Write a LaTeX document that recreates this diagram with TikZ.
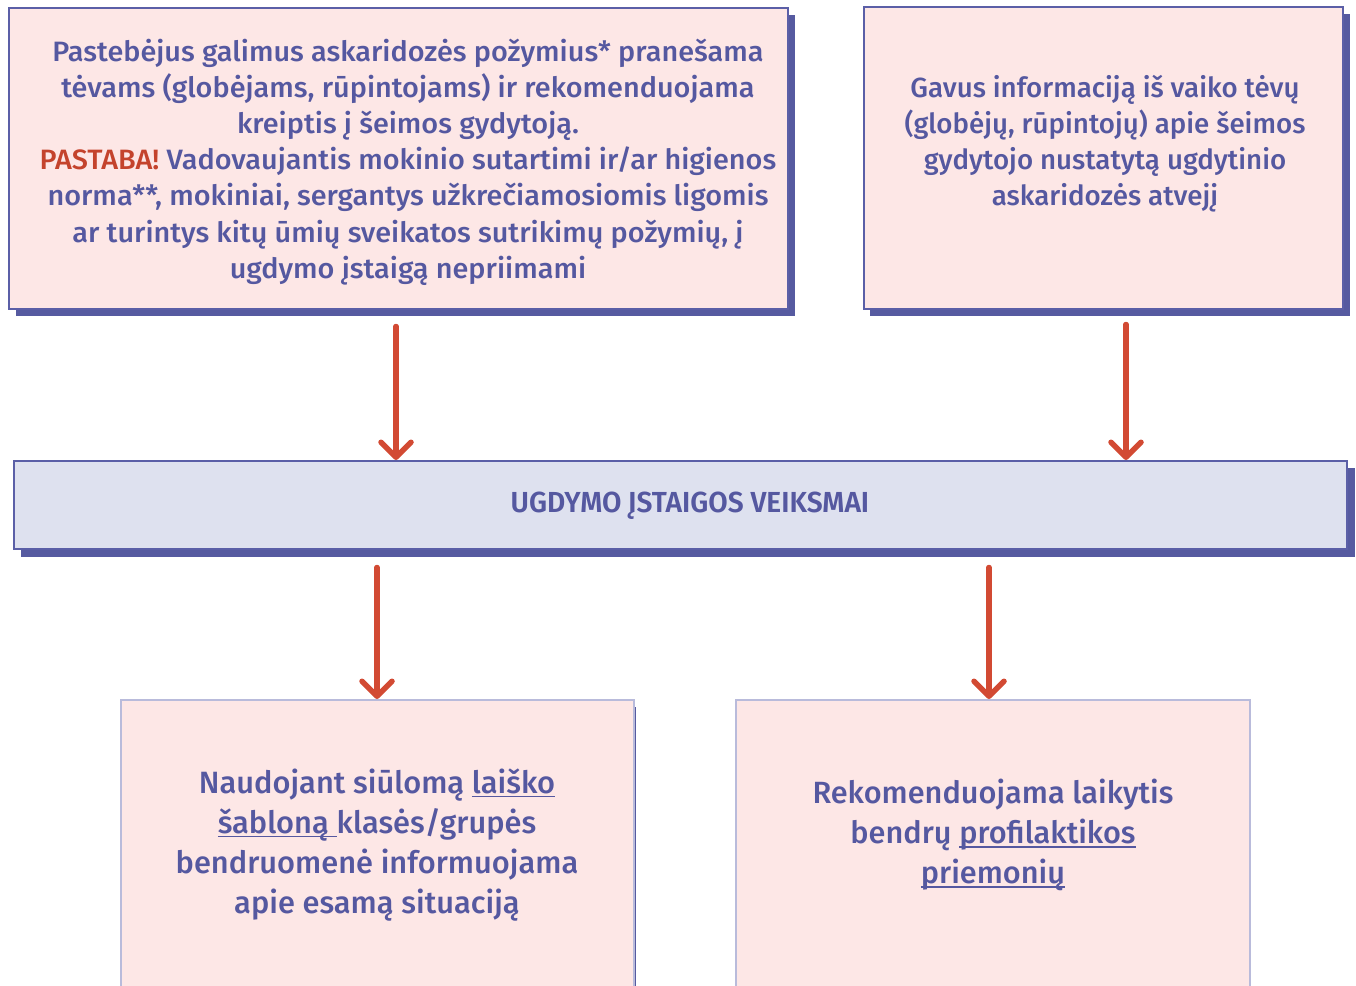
\documentclass[tikz,border=0pt]{standalone}
\usepackage{fontspec}
\setmainfont{Fira Sans}[UprightFont=* Medium]
\newfontfamily\condfont{Fira Sans}[UprightFont=* Medium, FakeStretch=1.03]
\newfontfamily\headfont{Fira Sans}[UprightFont=* SemiBold, FakeStretch=0.97]
\usetikzlibrary{arrows.meta}
\definecolor{txt}{HTML}{5558A0}
\definecolor{bord}{HTML}{5B5FA7}
\definecolor{lbord}{HTML}{B9BBDB}
\definecolor{shad}{HTML}{565AA0}
\definecolor{pinkfill}{HTML}{FDE7E6}
\definecolor{bluefill}{HTML}{DEE1EF}
\definecolor{arr}{HTML}{D24A33}
\definecolor{warn}{HTML}{C4432C}
\newcommand{\myul}[1]{\setbox0\hbox{#1}\rlap{\rule[-4pt]{\wd0}{1.6pt}}\box0}
\tikzset{
  box/.style={draw=bord, line width=1.5pt, fill=pinkfill, inner sep=0pt, anchor=north west},
  midbox/.style={draw=bord, line width=1.5pt, fill=bluefill, inner sep=0pt, anchor=north west},
  lowbox/.style={draw=lbord, line width=1.5pt, fill=pinkfill, inner sep=0pt, anchor=north west},
  txtnode/.style={text=txt, align=center, inner sep=0pt},
  flow/.style={draw=arr, line width=5.5pt, line cap=round, -{Straight Barb[round, length=15pt, width=30pt]}},
}
\begin{document}
\begin{tikzpicture}[x=1pt,y=-1pt]
\useasboundingbox (0,0) rectangle (1356,985);
% shadows
\fill[shad] (16,15) rectangle (795,316);
\fill[shad] (870,14) rectangle (1350,316);
\fill[shad] (21,468) rectangle (1355,557);
\fill[shad] (127,707) rectangle (636,990);
\fill[shad] (742,707) rectangle (1251,990);
% boxes
\node[box, minimum width=779pt, minimum height=301pt] (b1) at (8,7) {};
\node[box, minimum width=479pt, minimum height=302pt] (b2) at (863,6) {};
\node[midbox, minimum width=1333pt, minimum height=88pt] (m) at (13,460) {};
\node[lowbox, minimum width=513pt, minimum height=300pt] (b3) at (120,699) {};
\node[lowbox, minimum width=514pt, minimum height=300pt] (b4) at (735,699) {};
% texts
\node[txtnode, font=\condfont\fontsize{28}{36.2}\selectfont] (t1) at (408,162)
 {Pastebėjus galimus askaridozės požymius* pranešama\\
  tėvams (globėjams, rūpintojams) ir rekomenduojama\\
  kreiptis į šeimos gydytoją.\\
  \textcolor{warn}{PASTABA!} Vadovaujantis mokinio sutartimi ir/ar higienos\\
  norma**, mokiniai, sergantys užkrečiamosiomis ligomis\\
  ar turintys kitų ūmių sveikatos sutrikimų požymių, į\\
  ugdymo įstaigą nepriimami};
\node[txtnode, font=\fontsize{27.7}{36}\selectfont] (t2) at (1105,144)
 {Gavus informaciją iš vaiko tėvų\\
  (globėjų, rūpintojų) apie šeimos\\
  gydytojo nustatytą ugdytinio\\
  askaridozės atvejį};
\node[txtnode, font=\headfont\fontsize{29}{30}\selectfont] (tm) at (690,506) {UGDYMO ĮSTAIGOS VEIKSMAI};
\node[txtnode, font=\fontsize{30.8}{40}\selectfont] (t3) at (377,845)
 {Naudojant siūlomą \myul{laiško}\\
  \myul{šabloną }klasės/grupės\\
  bendruomenė informuojama\\
  apie esamą situaciją};
\node[txtnode, font=\fontsize{30.7}{40}\selectfont] (t4) at (993,835)
 {Rekomenduojama laikytis\\
  bendrų \myul{profilaktikos}\\
  \myul{priemonių}};
% arrows
\draw[flow] (b1.south -| 396,0) ++(0,17) coordinate (a1s) -- (m.north -| a1s) ;
\draw[flow] (b2.south -| 1126,0) ++(0,15) coordinate (a2s) -- (m.north -| a2s);
\draw[flow] (m.south -| 377,0) ++(0,18) coordinate (a3s) -- (b3.north -| a3s);
\draw[flow] (m.south -| 989,0) ++(0,18) coordinate (a4s) -- (b4.north -| a4s);
\end{tikzpicture}
\end{document}
